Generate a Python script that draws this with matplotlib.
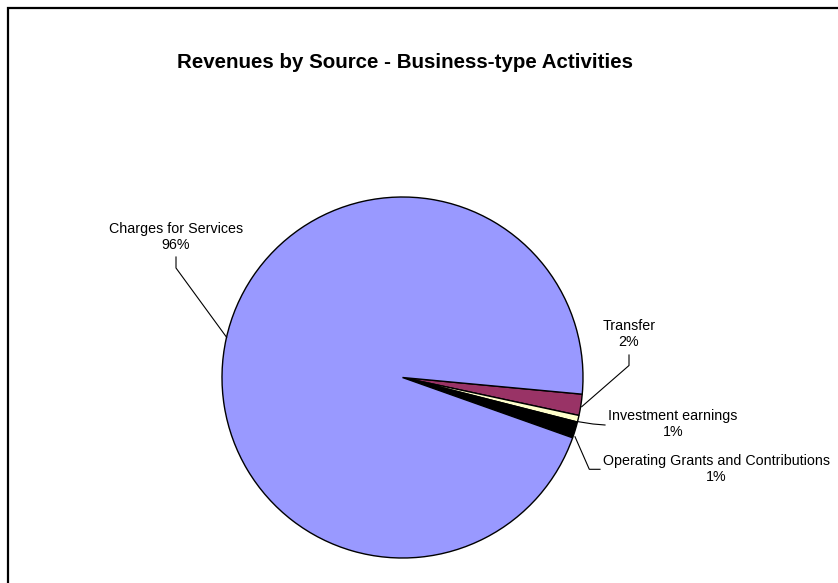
import matplotlib
matplotlib.use("Agg")
import matplotlib.pyplot as plt
from matplotlib.patches import Rectangle

plt.rcParams['font.family'] = ['Liberation Sans', 'DejaVu Sans']

title = "Revenues by Source - Business-type Activities"
categories = ["Transfer", "Investment earnings", "Operating Grants and Contributions", "Charges for Services"]
values = [1.9, 0.6, 1.45, 96.05]
colors = ["#993366", "#FFFFCC", "#000000", "#9999FF"]

W, H = 838, 583
fig = plt.figure(figsize=(W / 100, H / 100), dpi=100)
ax = fig.add_axes([0, 0, 1, 1])

cx, cy, r = 402.5, H - 377.5, 180.5
ax.pie(values, colors=colors, startangle=-5.3, counterclock=False,
       center=(cx, cy), radius=r, frame=True,
       wedgeprops=dict(edgecolor="black", linewidth=1.0))
ax.set_xlim(0, W)
ax.set_ylim(0, H)
ax.set_aspect('auto')
ax.axis('off')

total = sum(values)
pct = [f"{round(v / total * 100):.0f}%" for v in values]

def Y(y):
    return H - y

# label positions (pixel coords, top-origin) and leader polylines
label_pos = {
    "Transfer": (629, 334),
    "Investment earnings": (673, 424),
    "Operating Grants and Contributions": (716, 469),
    "Charges for Services": (176, 237),
}
leaders = {
    "Transfer": [(629, 355), (629, 365.5), (581.7, 406.7)],
    "Investment earnings": [(605, 425), (593, 424), (578.3, 421.7)],
    "Operating Grants and Contributions": [(600, 469.3), (589.3, 469.3), (575, 436.7)],
    "Charges for Services": [(176, 257), (176, 268), (226.6, 337.3)],
}

for cat, p in zip(categories, pct):
    x, y = label_pos[cat]
    ax.text(x, Y(y), f"{cat}\n{p}", ha="center", va="center",
            fontsize=10.3, linespacing=1.2, color="black")
    pts = leaders[cat]
    ax.plot([q[0] for q in pts], [Y(q[1]) for q in pts], color="black", linewidth=0.8)

ax.text(405, Y(62), title, ha="center", va="center", fontsize=14.8, fontweight="bold")

ax.add_patch(Rectangle((7.5, Y(7.5) - 700), 1000, 700, fill=False,
                       edgecolor="black", linewidth=1.6, clip_on=False))

fig.savefig("out.png", dpi=100)
